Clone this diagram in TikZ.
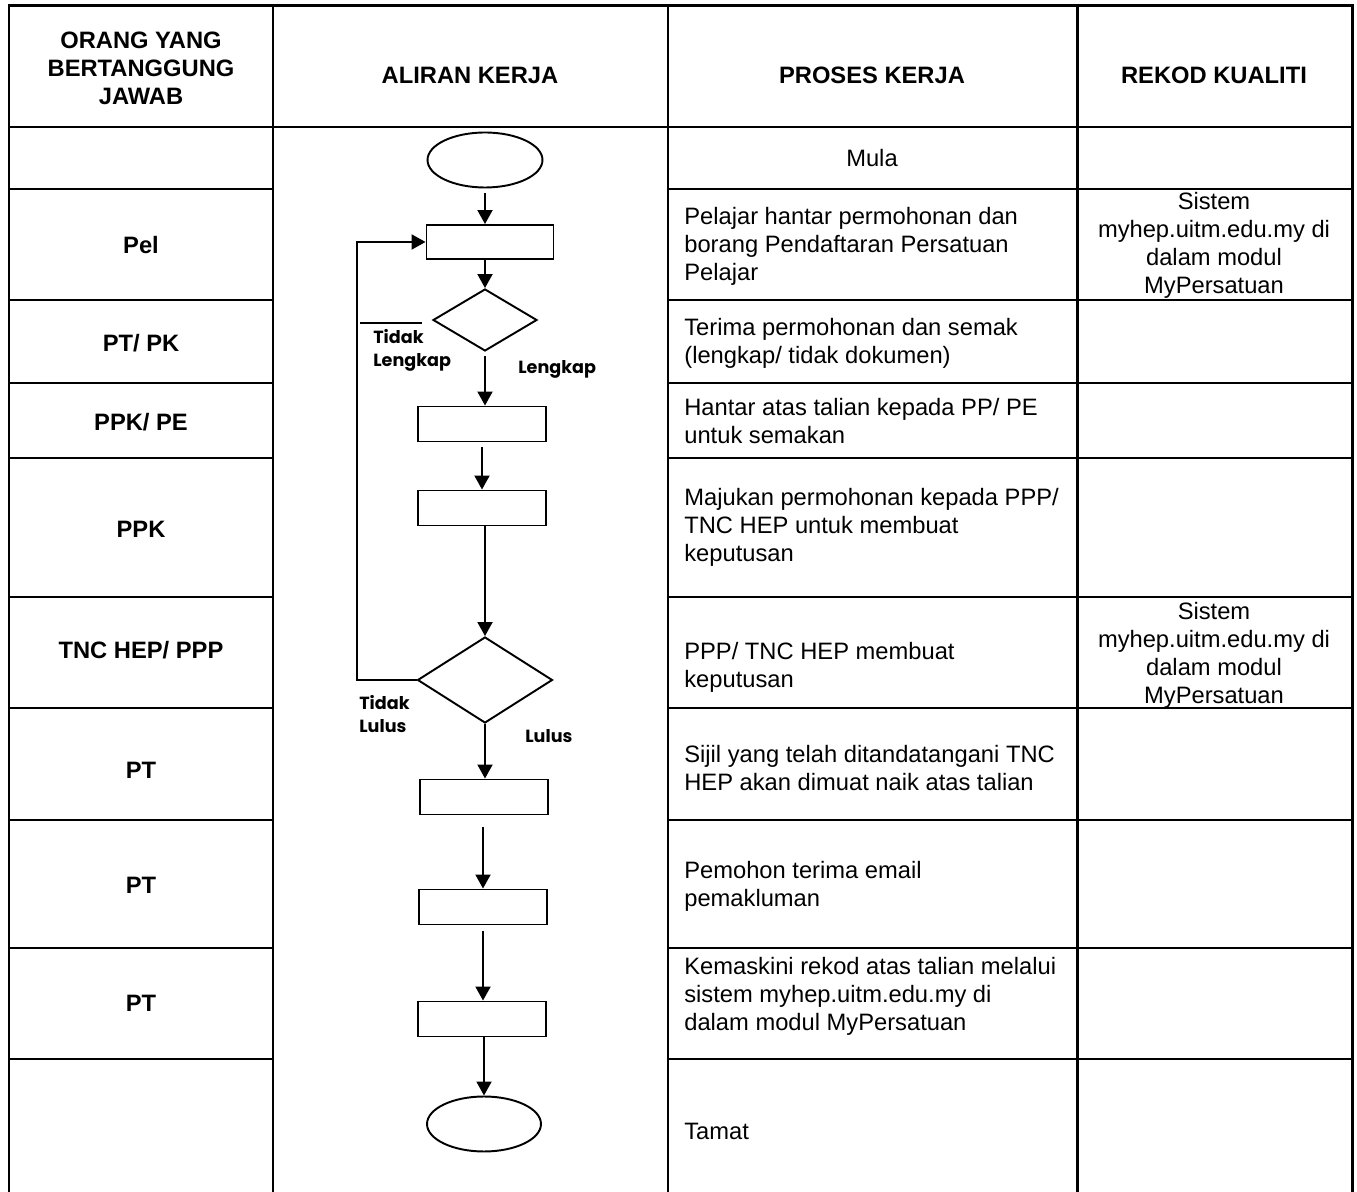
\documentclass[tikz,border=0pt]{standalone}
\usepackage{fontspec}
\setmainfont{Liberation Sans}
\newfontfamily\gothic{Poppins}
\usetikzlibrary{arrows.meta,shapes.geometric}

\begin{document}
\begin{tikzpicture}[
  x=0.02cm, y=-0.02cm,
  font=\fontsize{13.5}{15.9}\selectfont,
  tbl/.style={line width=1.7pt, line cap=rect},
  hd/.style={font=\fontsize{13.5}{15.9}\selectfont\bfseries, align=center, inner sep=0pt},
  pr/.style={anchor=west, align=left, inner sep=0pt},
  rk/.style={align=center, inner sep=0pt},
  b/.style={draw, line width=1.1pt, minimum width=25.6mm, minimum height=7mm, inner sep=0pt},
  dm/.style={draw, diamond, line width=1.1pt, inner sep=0pt},
  ov/.style={draw, ellipse, line width=1.1pt, minimum width=23mm, minimum height=11mm},
  lb/.style={font=\gothic\fontsize{10}{13}\selectfont\bfseries, align=left, inner sep=0pt},
  ln/.style={line width=1.1pt},
  pf/.style={ln, -{Triangle[length=2.8mm, width=3mm]}}
]
\useasboundingbox (0,0) rectangle (1357,1192);

\foreach \cx in {9,273,668,1077,1352} \draw[tbl] (\cx,6) -- (\cx,1200);
\draw[tbl] (9,6) -- (1352,6);
\draw[tbl] (9,127) -- (1352,127);
\foreach \ry in {189,300,383,458,597,708,820,948,1059} {
  \draw[tbl] (9,\ry) -- (273,\ry);
  \draw[tbl] (668,\ry) -- (1352,\ry);
}

\node[hd] (h1) at (141,68) {ORANG YANG\\BERTANGGUNG\\JAWAB};
\node[hd] (h2) at (470,75) {ALIRAN KERJA};
\node[hd] (h3) at (872,75) {PROSES KERJA};
\node[hd] (h4) at (1214,75) {REKOD KUALITI};

\node[hd] (w1) at (141,245) {Pel};
\node[hd] (w2) at (141,343) {PT/ PK};
\node[hd] (w3) at (141,422) {PPK/ PE};
\node[hd] (w4) at (141,529) {PPK};
\node[hd] (w5) at (141,650) {TNC HEP/ PPP};
\node[hd] (w6) at (141,770) {PT};
\node[hd] (w7) at (141,885) {PT};
\node[hd] (w8) at (141,1003) {PT};

\node[rk] (p0) at (872,158) {Mula};
\node[pr] (p1) at (684,246) {Pelajar hantar permohonan dan\\borang Pendaftaran Persatuan\\Pelajar};
\node[pr] (p2) at (684,343) {Terima permohonan dan semak\\(lengkap/ tidak dokumen)};
\node[pr] (p3) at (684,421) {Hantar atas talian kepada PP/ PE\\untuk semakan};
\node[pr] (p4) at (684,527) {Majukan permohonan kepada PPP/\\TNC HEP untuk membuat\\keputusan};
\node[pr] (p5) at (684,667) {PPP/ TNC HEP membuat\\keputusan};
\node[pr] (p6) at (684,768) {Sijil yang telah ditandatangani TNC\\HEP akan dimuat naik atas talian};
\node[pr] (p7) at (684,886) {Pemohon terima email\\pemakluman};
\node[pr] (p8) at (684,996) {Kemaskini rekod atas talian melalui\\sistem myhep.uitm.edu.my di\\dalam modul MyPersatuan};
\node[pr] (p9) at (684,1131) {Tamat};

\node[rk] (k1) at (1214,245) {Sistem\\myhep.uitm.edu.my di\\dalam modul\\MyPersatuan};
\node[rk] (k2) at (1214,655) {Sistem\\myhep.uitm.edu.my di\\dalam modul\\MyPersatuan};

\node[ov] (st) at (485,160) {};
\node[b, minimum width=25.4mm, minimum height=6.8mm] (r1) at (490,242) {};
\node[dm, minimum width=20.8mm, minimum height=12.4mm] (d1) at (485,320) {};
\node[b] (r2) at (482,424) {};
\node[b] (r3) at (482,508) {};
\node[dm, minimum width=27mm, minimum height=17.2mm] (d2) at (485,680) {};
\node[b] (r4) at (484,797) {};
\node[b] (r5) at (483,907) {};
\node[b] (r6) at (482,1019) {};
\node[ov, minimum width=22.8mm] (en) at (484,1124) {};

\draw[pf, shorten <=1mm] (st.south) -- (st.south |- r1.north);
\draw[pf] (d1.north |- r1.south) -- (d1.north);
\draw[pf, shorten <=0.8mm] (d1.south) -- (d1.south |- r2.north);
\draw[pf, shorten <=1mm] (r2.south) -- (r3.north);
\draw[pf] (d2.north |- r3.south) -- (d2.north);
\draw[pf] (d2.south) -- (d2.south |- r4.north);
\draw[pf, shorten <=2.4mm] (r5.north |- r4.south) -- (r5.north);
\draw[pf, shorten <=1.2mm] (r5.south) -- (r5.south |- r6.north);
\draw[pf] (en.north |- r6.south) -- (en.north);
\draw[pf] (d2.west) -- ++(-60,0) |- (r1.west);
\draw[ln] ([xshift=-2mm,yshift=-0.6mm]d1.west) -- ++(-62,0);

\node[lb, anchor=north west] (tlk) at (373,329) {Tidak\\Lengkap};
\node[lb, anchor=west] (lk) at (518,369) {Lengkap};
\node[lb, anchor=north west] (tll) at (359,695) {Tidak\\Lulus};
\node[lb, anchor=west] (ll) at (525,736) {Lulus};
\end{tikzpicture}
\end{document}
